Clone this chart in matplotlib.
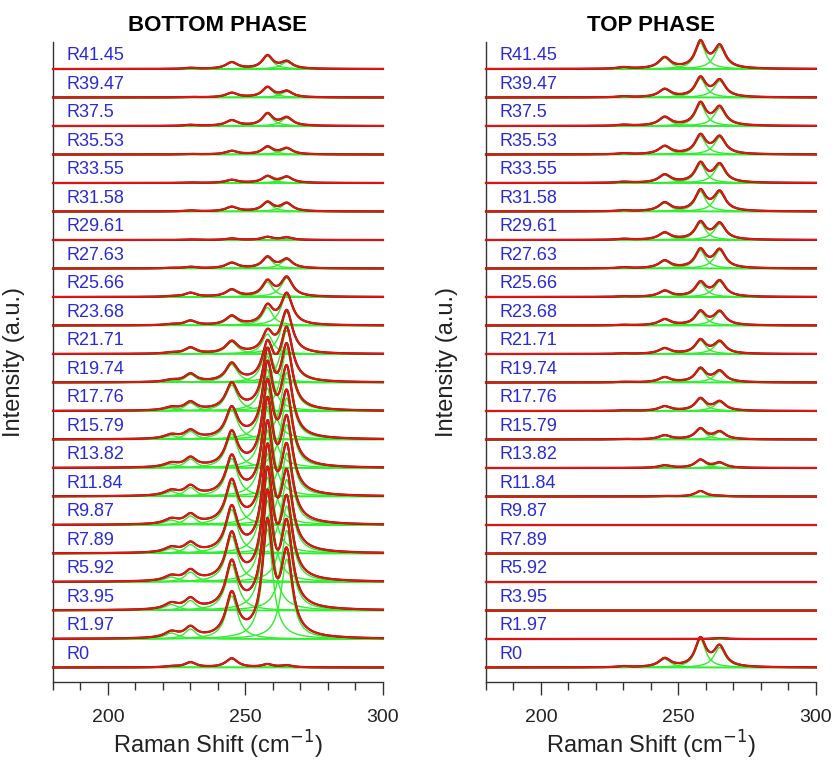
import numpy as np
import matplotlib
matplotlib.use("Agg")
import matplotlib.pyplot as plt

plt.rcParams['font.family'] = ['Liberation Sans', 'DejaVu Sans']

# ---------------- data ----------------
labels = ['R0', 'R1.97', 'R3.95', 'R5.92', 'R7.89', 'R9.87', 'R11.84', 'R13.82',
          'R15.79', 'R17.76', 'R19.74', 'R21.71', 'R23.68', 'R25.66', 'R27.63',
          'R29.61', 'R31.58', 'R33.55', 'R35.53', 'R37.5', 'R39.47', 'R41.45']

peak_centers = [223, 230, 245, 258, 265]      # cm-1
peak_hwhm = [3.0, 2.5, 2.6, 2.3, 2.5]         # cm-1

# peak amplitudes (a.u.), rows listed from R0 upwards
bottom_223 = [1, 6, 6, 5, 5, 5, 5, 4, 4, 3, 2, 1, 1, 0.5, 0.5, 0, 0, 0, 0, 0, 0, 0]
bottom_230 = [5, 10, 10, 10, 9, 9, 9, 9, 8, 8, 8, 6, 4.5, 4, 1.5, 0.5, 1, 0.5, 0.5, 1, 0.5, 1]
bottom_245 = [9, 43, 46, 46, 44, 42, 38, 34, 30, 26, 18, 12, 9, 7, 5.5, 1.5, 4.5, 3, 3.5, 5.5, 4.5, 6.5]
bottom_258 = [3, 110, 110, 105, 100, 95, 90, 80, 70, 55, 36, 20, 18, 15, 11, 3, 9, 6.5, 7.5, 12, 10, 13]
bottom_265 = [2, 80, 80, 76, 74, 72, 72, 70, 67, 62, 52, 42, 31, 19, 9, 2.5, 8, 6, 6, 8, 6, 7]

top_223 = [0] * 22
top_230 = [1, 0, 0, 0, 0, 0, 0, 0, 0.5, 0.5, 0.5, 0.5, 0.5, 0.5, 1, 1, 1, 1, 1, 1, 1, 1.5]
top_245 = [8.5, 0, 0, 0, 0, 0, 0.5, 2.5, 4, 4.5, 5, 5.5, 6, 6, 7.5, 7, 8.5, 8, 8, 8.5, 8, 11]
top_258 = [28, 0, 0, 0, 0, 0, 5.5, 8, 10.5, 12, 13.5, 13.5, 13.5, 14, 18, 17, 20, 19, 18.5, 22, 19, 26]
top_265 = [20, 1, 0, 0, 0, 0, 0.5, 5, 7.5, 9, 11, 12, 13.5, 15.5, 18, 16, 19, 18, 17, 18, 16.5, 22]

row_step = 28.5   # vertical offset between stacked spectra (a.u.)

x = np.linspace(180, 300, 1201)


def lorentz(x, a, c, g):
    return a / (1.0 + ((x - c) / g) ** 2)


def draw_panel(ax, amps, title):
    n = len(labels)
    for i in range(n):
        off = i * row_step
        comps = [lorentz(x, amps[j][i], peak_centers[j], peak_hwhm[j])
                 for j in range(len(peak_centers))]
        total = np.sum(comps, axis=0)
        for c in comps:
            ax.plot(x, c + off, color='#2ef02e', lw=1.0, zorder=1, clip_on=False)
        ax.plot(x, total + off, color='#4a1208', lw=1.6, zorder=2, clip_on=False)
        ax.plot(x, total + off, color='#ee1111', lw=1.35, zorder=3, clip_on=False)
        ax.text(185.0, off + 13.5, labels[i], color='#2a2ad8', fontsize=13,
                va='center', ha='left', zorder=4)
    ax.set_xlim(180, 300)
    ax.set_ylim(-14.5, 625.5)
    ax.set_xticks([200, 250, 300])
    ax.set_xticks(np.arange(180, 301, 10), minor=True)
    ax.tick_params(axis='x', which='major', direction='out', length=9.5,
                   width=1.0, labelsize=14, pad=10, colors='#333333',
                   labelcolor='#222222')
    ax.tick_params(axis='x', which='minor', direction='out', length=5.5,
                   width=1.0, colors='#333333')
    ax.set_yticks([])
    for s in ['top', 'right']:
        ax.spines[s].set_visible(False)
    for s in ['left', 'bottom']:
        ax.spines[s].set_color('#333333')
        ax.spines[s].set_linewidth(1.0)
    ax.set_xlabel('Raman Shift (cm$^{-1}$)', fontsize=17, color='#222222',
                  labelpad=2)
    ax.set_ylabel('Intensity (a.u.)', fontsize=17, color='#222222')
    ax.yaxis.set_label_coords(-0.085, 0.5)
    ax.set_title(title, fontsize=16, fontweight='bold', pad=8)


fig = plt.figure(figsize=(8.36, 7.64), dpi=100)
ax1 = fig.add_axes([0.0634, 0.1073, 0.3947, 0.8377])
ax2 = fig.add_axes([0.5813, 0.1073, 0.3947, 0.8377])

draw_panel(ax1, [bottom_223, bottom_230, bottom_245, bottom_258, bottom_265],
           'BOTTOM PHASE')
draw_panel(ax2, [top_223, top_230, top_245, top_258, top_265], 'TOP PHASE')

fig.savefig('out.png', dpi=100)
